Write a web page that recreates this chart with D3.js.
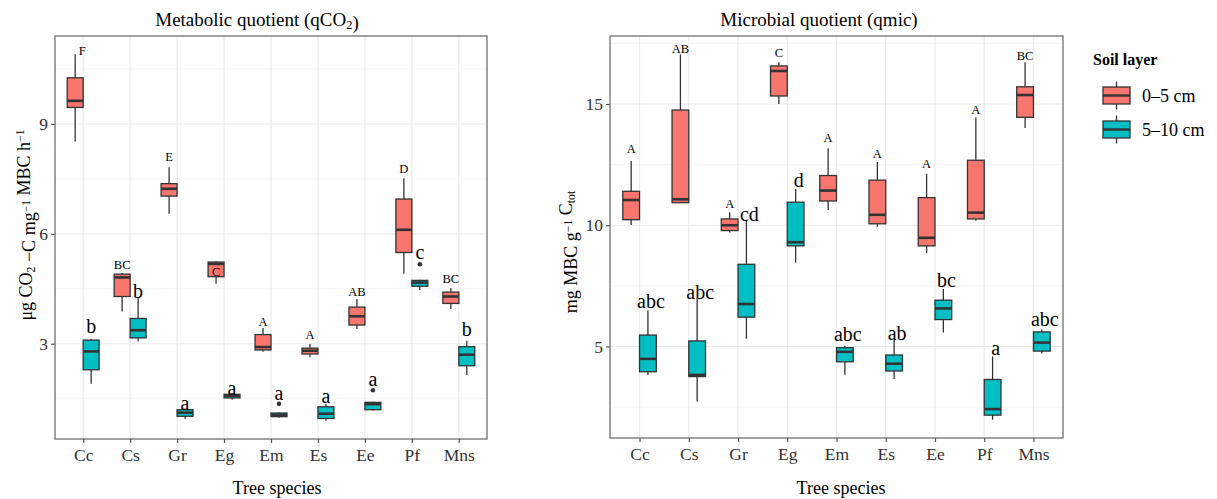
<!DOCTYPE html>
<html>
<head>
<meta charset="utf-8">
<script src="https://cdn.jsdelivr.net/npm/d3@7"></script>
<style>
body { margin: 0; background: #fff; }
text { font-family: "Liberation Serif", "Times New Roman", serif; }
</style>
</head>
<body>
<script>
var species = ["Cc", "Cs", "Gr", "Eg", "Em", "Es", "Ee", "Pf", "Mns"];
var layers = ["0–5 cm", "5–10 cm"];

// boxplot stats per species: [lower whisker, q1, median, q3, upper whisker]
var qco2Top = [
    [8.52, 9.45, 9.63, 10.26, 10.9],
    [3.88, 4.29, 4.81, 4.90, 4.93],
    [6.55, 7.03, 7.23, 7.37, 7.82],
    [4.64, 4.83, 5.18, 5.23, 5.25],
    [2.78, 2.83, 2.91, 3.25, 3.43],
    [2.63, 2.72, 2.81, 2.88, 2.99],
    [3.40, 3.51, 3.75, 4.00, 4.22],
    [4.91, 5.49, 6.11, 6.95, 7.52],
    [3.95, 4.10, 4.29, 4.41, 4.52]
];
var qco2Sub = [
    [1.91, 2.29, 2.79, 3.10, 3.13],
    [3.06, 3.16, 3.37, 3.69, 4.27],
    [0.95, 1.02, 1.12, 1.20, 1.22],
    [1.47, 1.52, 1.58, 1.62, 1.64],
    [0.98, 1.01, 1.06, 1.11, 1.12],
    [0.90, 0.96, 1.09, 1.28, 1.36],
    [1.18, 1.20, 1.35, 1.40, 1.42],
    [4.47, 4.57, 4.67, 4.73, 4.75],
    [2.15, 2.40, 2.70, 2.92, 3.08]
];
var qco2SubOutliers = [["Em", 1.36], ["Ee", 1.73], ["Pf", 5.17]];
var qco2TopLetters = ["F", "BC", "E", "C", "A", "A", "AB", "D", "BC"];
var qco2TopLetterY = [10.88, 5.04, 8.00, 4.86, 3.49, 3.14, 4.31, 7.67, 4.66];
var qco2SubLetters = ["b", "b", "a", "a", "a", "a", "a", "c", "b"];
var qco2SubLetterY = [3.29, 4.25, 1.20, 1.59, 1.47, 1.38, 1.86, 5.31, 3.20];
var qco2Ticks = [3, 6, 9];

var qmicTop = [
    [10.01, 10.23, 11.04, 11.40, 12.65],
    [10.93, 10.93, 11.07, 14.75, 17.05],
    [9.70, 9.78, 10.00, 10.26, 10.54],
    [15.00, 15.33, 16.36, 16.57, 16.72],
    [10.63, 11.00, 11.43, 12.05, 13.17],
    [9.94, 10.06, 10.43, 11.86, 12.61],
    [8.85, 9.15, 9.48, 11.14, 12.12],
    [10.18, 10.26, 10.52, 12.68, 14.44],
    [14.01, 14.45, 15.37, 15.71, 16.72]
];
var qmicSub = [
    [3.82, 3.96, 4.49, 5.47, 6.48],
    [2.73, 3.76, 3.83, 5.23, 6.99],
    [5.32, 6.21, 6.75, 8.39, 10.22],
    [8.46, 9.15, 9.30, 10.95, 11.50],
    [3.83, 4.37, 4.78, 4.95, 5.03],
    [3.66, 3.99, 4.29, 4.65, 5.28],
    [5.58, 6.11, 6.57, 6.91, 7.37],
    [1.98, 2.17, 2.42, 3.64, 4.59],
    [4.71, 4.81, 5.16, 5.60, 5.70]
];
var qmicSubOutliers = [];
var qmicTopLetters = ["A", "AB", "A", "C", "A", "A", "A", "A", "BC"];
var qmicTopLetterY = [12.97, 17.11, 10.70, 16.92, 13.45, 12.79, 12.38, 14.58, 16.81];
var qmicSubLetters = ["abc", "abc", "cd", "d", "abc", "ab", "bc", "a", "abc"];
var qmicSubLetterY = [6.58, 6.95, 10.19, 11.57, 5.21, 5.28, 7.47, 4.66, 5.85];
var qmicTicks = [5, 10, 15];

var colors = ["#F8766D", "#00BFC4"];
var lineCol = "#333333";

var svg = d3.select("body").append("svg")
    .attr("width", 1217)
    .attr("height", 499);

function drawPanel(p) {
    var g = svg.append("g");

    var x = d3.scalePoint()
        .domain(species)
        .range([p.x0, p.x1])
        .padding(0.6);
    var step = x.step();
    var bw = step * 0.34;

    var all = [];
    p.top.concat(p.sub).forEach(function(s) { all.push(s[0], s[4]); });
    p.outliers.forEach(function(o) { all.push(o[1]); });
    var lo = d3.min(all), hi = d3.max(all), pad = (hi - lo) * 0.05;
    var y = d3.scaleLinear()
        .domain([lo - pad, hi + pad])
        .range([p.y1, p.y0]);

    // grid
    var minor = d3.range(p.ticks[0] - p.ticks[1] + p.ticks[0], hi + pad, p.ticks[1] - p.ticks[0])
        .map(function(t) { return t + (p.ticks[1] - p.ticks[0]) / 2; })
        .filter(function(t) { return t > lo - pad && t < hi + pad; });
    g.selectAll(".minor").data(minor).enter().append("line")
        .attr("x1", p.x0).attr("x2", p.x1)
        .attr("y1", function(d) { return y(d); })
        .attr("y2", function(d) { return y(d); })
        .style("stroke", "#F2F2F2").style("stroke-width", 0.8);
    g.selectAll(".major").data(p.ticks).enter().append("line")
        .attr("x1", p.x0).attr("x2", p.x1)
        .attr("y1", function(d) { return y(d); })
        .attr("y2", function(d) { return y(d); })
        .style("stroke", "#EBEBEB").style("stroke-width", 1.2);
    g.selectAll(".vgrid").data(species).enter().append("line")
        .attr("x1", function(d) { return x(d); })
        .attr("x2", function(d) { return x(d); })
        .attr("y1", p.y0).attr("y2", p.y1)
        .style("stroke", "#EBEBEB").style("stroke-width", 1.2);

    // boxes for both layers
    [p.top, p.sub].forEach(function(stats, li) {
        var cx = function(i) { return x(species[i]) + (li == 0 ? -bw / 2 : bw / 2); };
        var box = g.selectAll(".box" + li)
            .data(stats)
            .enter()
            .append("g");
        box.append("line")
            .attr("x1", function(d, i) { return cx(i); })
            .attr("x2", function(d, i) { return cx(i); })
            .attr("y1", function(d) { return y(d[4]); })
            .attr("y2", function(d) { return y(d[0]); })
            .style("stroke", lineCol).style("stroke-width", 1.3);
        box.append("rect")
            .attr("x", function(d, i) { return cx(i) - bw / 2; })
            .attr("width", bw)
            .attr("y", function(d) { return y(d[3]); })
            .attr("height", function(d) { return Math.max(y(d[1]) - y(d[3]), 0.5); })
            .style("fill", colors[li])
            .style("stroke", lineCol).style("stroke-width", 1.3);
        box.append("line")
            .attr("x1", function(d, i) { return cx(i) - bw / 2; })
            .attr("x2", function(d, i) { return cx(i) + bw / 2; })
            .attr("y1", function(d) { return y(d[2]); })
            .attr("y2", function(d) { return y(d[2]); })
            .style("stroke", lineCol).style("stroke-width", 2.6);
    });

    g.selectAll(".out").data(p.outliers).enter().append("circle")
        .attr("cx", function(d) { return x(d[0]) + bw / 2; })
        .attr("cy", function(d) { return y(d[1]); })
        .attr("r", 2.3)
        .style("fill", lineCol);

    // significance letters
    g.selectAll(".ltop").data(p.topLetters).enter().append("text")
        .attr("x", function(d, i) { return x(species[i]) - bw / 2 + (p.nudge[species[i]] || 0); })
        .attr("y", function(d, i) { return y(p.topLetterY[i]); })
        .attr("text-anchor", "middle")
        .style("font-size", "12.5px")
        .text(function(d) { return d; });
    g.selectAll(".lsub").data(p.subLetters).enter().append("text")
        .attr("x", function(d, i) { return x(species[i]) + bw / 2 + p.subShift; })
        .attr("y", function(d, i) { return y(p.subLetterY[i]); })
        .attr("text-anchor", "middle")
        .style("font-size", "20px")
        .text(function(d) { return d; });

    // panel border
    g.append("rect")
        .attr("x", p.x0).attr("y", p.y0)
        .attr("width", p.x1 - p.x0).attr("height", p.y1 - p.y0)
        .style("fill", "none")
        .style("stroke", "#7a7a7a").style("stroke-width", 1.4);

    // axes
    var ya = g.append("g")
        .attr("transform", "translate(" + p.x0 + ",0)")
        .call(d3.axisLeft(y).tickValues(p.ticks).tickSize(4).tickPadding(3));
    var xa = g.append("g")
        .attr("transform", "translate(0," + p.y1 + ")")
        .call(d3.axisBottom(x).tickSize(4).tickPadding(6));
    [ya, xa].forEach(function(a) {
        a.select(".domain").remove();
        a.selectAll("line").style("stroke", "#555").style("stroke-width", 1.2);
        a.selectAll("text")
            .style("font-family", "Liberation Serif, serif")
            .style("font-size", "17.5px")
            .style("fill", "#333");
    });

    // titles
    g.append("text")
        .attr("x", p.titleX).attr("y", 26)
        .attr("text-anchor", "middle")
        .style("font-size", "19px")
        .call(p.title);
    g.append("text")
        .attr("x", p.xTitleX).attr("y", 494)
        .attr("text-anchor", "middle")
        .style("font-size", "18px")
        .text("Tree species");
    g.append("text")
        .attr("transform", "translate(" + p.yTitleX + "," + p.yTitleY + ") rotate(-90)")
        .attr("text-anchor", "middle")
        .style("font-size", "18px")
        .call(p.yTitle);
}

function rich(parts) {
    return function(t) {
        parts.forEach(function(pt) {
            var s = t.append("tspan").text(pt[0]);
            if (pt[1] == "sub") s.attr("dy", "0.25em").style("font-size", "0.65em");
            if (pt[1] == "sup") s.attr("dy", "-0.45em").style("font-size", "0.65em");
            if (pt[1] == "sub") t.append("tspan").attr("dy", "-0.25em").text("");
            if (pt[1] == "sup") t.append("tspan").attr("dy", "0.45em").text("");
        });
    };
}

drawPanel({
    x0: 55, x1: 487, y0: 36, y1: 439,
    top: qco2Top, sub: qco2Sub, outliers: qco2SubOutliers,
    topLetters: qco2TopLetters, topLetterY: qco2TopLetterY,
    subLetters: qco2SubLetters, subLetterY: qco2SubLetterY,
    ticks: qco2Ticks, nudge: {"Cc": 7}, subShift: 0,
    titleX: 257, xTitleX: 277, yTitleX: 32, yTitleY: 225,
    title: rich([["Metabolic quotient (qCO"], ["2", "sub"], [")"]]),
    yTitle: rich([["μg CO"], ["2", "sub"], [" −C  mg"], ["−1", "sup"], [" MBC h"], ["−1", "sup"]])
});

drawPanel({
    x0: 610, x1: 1063, y0: 36, y1: 438,
    top: qmicTop, sub: qmicSub, outliers: qmicSubOutliers,
    topLetters: qmicTopLetters, topLetterY: qmicTopLetterY,
    subLetters: qmicSubLetters, subLetterY: qmicSubLetterY,
    ticks: qmicTicks, nudge: {}, subShift: 3,
    titleX: 819, xTitleX: 841, yTitleX: 577, yTitleY: 252,
    title: rich([["Microbial quotient (qmic)"]]),
    yTitle: rich([["mg MBC g"], ["−1", "sup"], [" C"], ["tot", "sub"]])
});

// legend
var legend = svg.append("g").attr("transform", "translate(1093,0)");
legend.append("text")
    .attr("x", 0).attr("y", 65)
    .style("font-size", "16px")
    .style("font-weight", "bold")
    .text("Soil layer");
var key = legend.selectAll(".key")
    .data(layers)
    .enter()
    .append("g")
    .attr("transform", function(d, i) { return "translate(0," + (95.5 + i * 34) + ")"; });
key.append("line")
    .attr("x1", 23.5).attr("x2", 23.5).attr("y1", -14).attr("y2", 14)
    .style("stroke", lineCol).style("stroke-width", 1.3);
key.append("rect")
    .attr("x", 10).attr("y", -8.5).attr("width", 27).attr("height", 17)
    .style("fill", function(d, i) { return colors[i]; })
    .style("stroke", lineCol).style("stroke-width", 1.3);
key.append("line")
    .attr("x1", 10).attr("x2", 37).attr("y1", 0).attr("y2", 0)
    .style("stroke", lineCol).style("stroke-width", 2.4);
key.append("text")
    .attr("x", 49).attr("y", 0).attr("dy", "0.35em")
    .style("font-size", "18px")
    .text(function(d) { return d; });
</script>
</body>
</html>
